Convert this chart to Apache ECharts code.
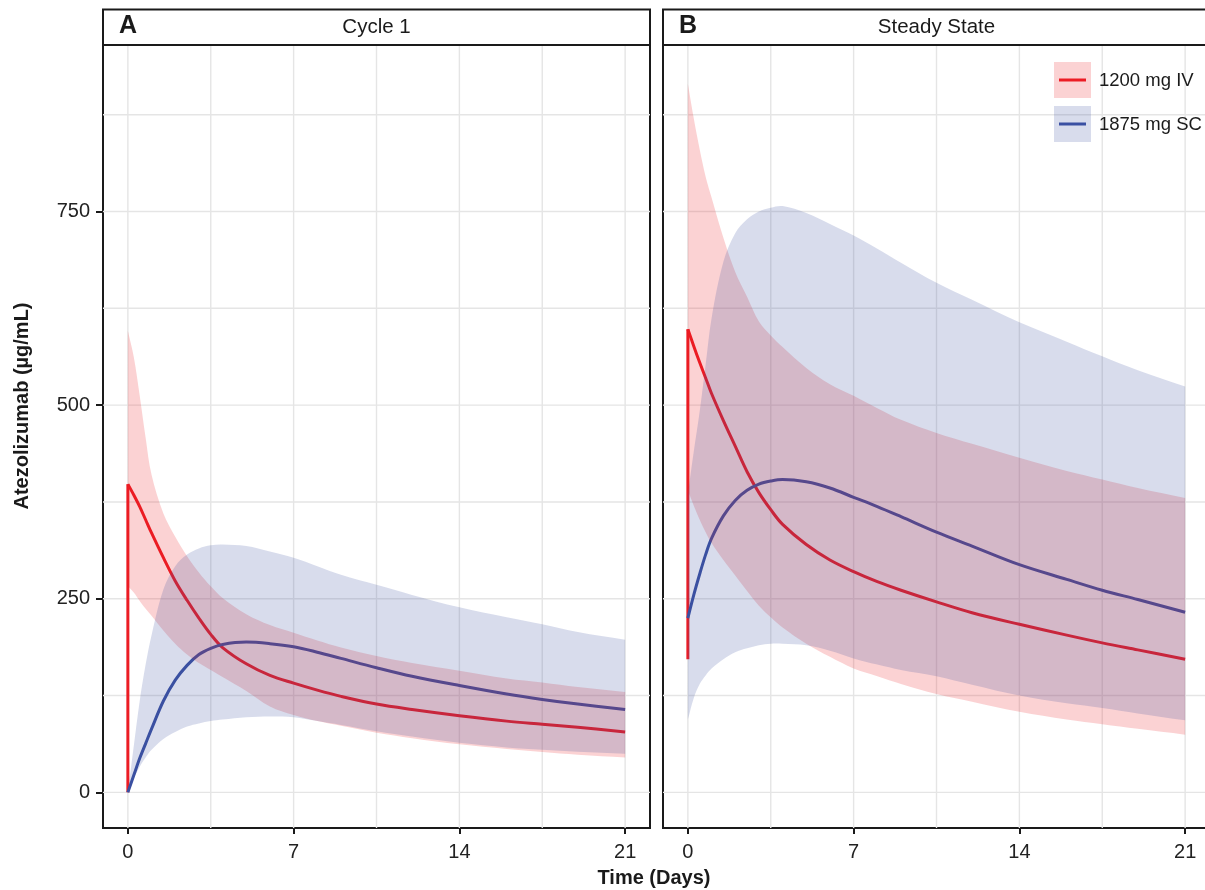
<!DOCTYPE html>
<html>
<head>
<meta charset="utf-8">
<title>Atezolizumab concentration</title>
<script src="https://cdn.jsdelivr.net/npm/echarts@6/dist/echarts.min.js"></script>
<style>
  html, body { margin: 0; padding: 0; background: #fff; overflow: hidden; }
  #chart { width: 1214px; height: 890px; }
</style>
</head>
<body>
<div id="chart"></div>
<script>
// time grid (days) shared by all curves
const days = [0, 0.25, 0.5, 0.75, 1, 1.5, 2, 2.5, 3, 3.5, 4, 5, 6, 7, 8, 9, 10.5, 12, 14, 16, 17.5, 19, 21]

// Cycle 1 - IV
const ivPreC1 = 0
const ivMedC1 = [398, 384, 369, 352, 335, 303, 273, 248, 225, 204, 187, 166, 151, 141, 132, 124, 114, 107, 99, 92, 88, 84, 78]
const ivLoC1 = [266, 258, 247, 237, 228, 209, 192, 178, 167, 158, 149, 131, 111, 100, 92, 86, 77, 70, 62, 56, 52, 48.5, 45]
const ivHiC1 = [596, 562, 512, 458, 410, 360, 330, 305, 284, 266, 251, 230, 216, 206, 196, 187, 176, 167, 157, 147, 142, 136, 129.5]
// Cycle 1 - SC
const scMedC1 = [0, 22, 44, 63, 82, 118, 145, 164, 178, 186, 191, 194, 192, 188, 181, 173, 161, 150, 138, 127, 120, 114, 107]
const scLoC1 = [0, 18, 33, 45, 55, 69, 78, 85, 89, 92, 94, 97, 98, 97, 92, 87, 79, 72, 64, 58, 55, 52.5, 50]
const scHiC1 = [0, 60, 118, 165, 203, 262, 292, 307, 315, 319, 320, 318, 311, 303, 292, 281, 268, 255, 239, 226, 217, 207, 197]

// Steady state - IV
const ivPreSS = 172
const ivMedSS = [598, 576, 555, 535, 515, 480, 447, 414, 387, 365, 346, 320, 300, 285, 272, 261, 246, 232, 217, 203, 193, 184, 172]
const ivLoSS = [390, 370, 352, 336, 322, 300, 280, 260, 241, 226, 213, 192, 175, 160, 150, 140, 127, 117, 104, 94, 88, 82, 74.5]
const ivHiSS = [915, 870, 830, 795, 768, 716, 672, 640, 608, 590, 575, 548, 527, 512, 496, 481, 464, 450, 432, 415, 404, 393, 380]
// Steady state - SC
const scMedSS = [225, 255, 282, 307, 328, 357, 377, 390, 398, 402, 404, 401, 393, 381, 369, 356, 336, 318, 294, 275, 261, 249, 232.5]
const scLoSS = [94, 122, 140, 151, 160, 172, 181, 186, 190, 192, 192, 190, 183, 173, 165, 158, 150, 139, 125, 115, 109, 102, 93]
const scHiSS = [385, 440, 492, 552, 612, 685, 722, 740, 750, 755, 757, 748, 734, 719, 702, 684, 658, 636, 607, 582, 563, 545, 524]

// ticks and grid lines
const dayTicks = [0, 7, 14, 21]
const concTicks = [0, 250, 500, 750]
const gridDays = [0, 3.5, 7, 10.5, 14, 17.5, 21]
const gridConc = [0, 125, 250, 375, 500, 625, 750, 875]

const panelTitles = ['Cycle 1', 'Steady State']
const panelTags = ['A', 'B']
const seriesNames = ['1200 mg IV', '1875 mg SC']

const RED = '#EC1C24'
const BLUE = '#3A50A2'
const RED_FILL = 'rgba(236,28,36,0.2)'
const BLUE_FILL = 'rgba(58,80,162,0.2)'
const FONT = '"Liberation Sans", Arial, sans-serif'
const INK = '#1a1a1a'
const SMOOTH = 0.35

const chart = echarts.init(document.getElementById('chart'), null, { renderer: 'canvas' })

// ribbon between lo and hi, one smoothed polygon; corner points doubled so the ends stay square
function bandSeries(idx, lo, hi, fill, z) {
	return {
		type: 'custom',
		xAxisIndex: idx,
		yAxisIndex: idx,
		z: z,
		silent: true,
		data: days.map((d, i) => [d, lo[i], hi[i]]),
		renderItem: function (params, api) {
			if (params.dataIndex !== 0) return null
			const n = days.length
			const pts = []
			pts.push(api.coord([days[0], hi[0]]))
			for (let i = 0; i < n; i++) pts.push(api.coord([days[i], hi[i]]))
			pts.push(api.coord([days[n - 1], hi[n - 1]]))
			pts.push(api.coord([days[n - 1], lo[n - 1]]))
			for (let j = n - 1; j >= 0; j--) pts.push(api.coord([days[j], lo[j]]))
			pts.push(api.coord([days[0], lo[0]]))
			return {
				type: 'polygon',
				shape: { points: pts, smooth: SMOOTH },
				style: { fill: fill },
			}
		},
	}
}

function gridSeries(idx) {
	return {
		type: 'custom',
		xAxisIndex: idx,
		yAxisIndex: idx,
		z: 0,
		silent: true,
		data: [[0, 0]],
		renderItem: function (params, api) {
			const cs = params.coordSys
			const children = []
			gridDays.forEach((d) => {
				const x = api.coord([d, 0])[0]
				children.push({
					type: 'line',
					shape: { x1: x, y1: cs.y, x2: x, y2: cs.y + cs.height },
					style: { stroke: '#E5E5E5', lineWidth: 1.4 },
				})
			})
			gridConc.forEach((c) => {
				const y = api.coord([0, c])[1]
				children.push({
					type: 'line',
					shape: { x1: cs.x, y1: y, x2: cs.x + cs.width, y2: y },
					style: { stroke: '#E5E5E5', lineWidth: 1.4 },
				})
			})
			return { type: 'group', children: children }
		},
	}
}

function lineSeries(idx, name, pts, color, smooth) {
	return {
		type: 'line',
		name: name,
		xAxisIndex: idx,
		yAxisIndex: idx,
		z: 2,
		silent: true,
		showSymbol: false,
		symbol: 'none',
		smooth: smooth,
		data: pts,
		lineStyle: { color: color, width: 3, cap: 'butt', join: 'miter' },
		animation: false,
	}
}

const panels = [
	{ ivPre: ivPreC1, ivMed: ivMedC1, ivLo: ivLoC1, ivHi: ivHiC1, scMed: scMedC1, scLo: scLoC1, scHi: scHiC1 },
	{ ivPre: ivPreSS, ivMed: ivMedSS, ivLo: ivLoSS, ivHi: ivHiSS, scMed: scMedSS, scLo: scLoSS, scHi: scHiSS },
]

const gridLefts = [103, 663]
const PANEL_W = 547
const PANEL_TOP = 45
const PANEL_H = 783

const series = []
panels.forEach((p, i) => {
	series.push(gridSeries(i))
	// dose jump at day 0, then the decay curve
	series.push(lineSeries(i, seriesNames[0], [[0, p.ivPre], [0, p.ivMed[0]]], RED, false))
	series.push(lineSeries(i, seriesNames[0], days.map((d, k) => [d, p.ivMed[k]]), RED, SMOOTH))
	series.push(lineSeries(i, seriesNames[1], days.map((d, k) => [d, p.scMed[k]]), BLUE, SMOOTH))
	series.push(bandSeries(i, p.ivLo, p.ivHi, RED_FILL, 3))
	series.push(bandSeries(i, p.scLo, p.scHi, BLUE_FILL, 4))
})

const graphics = []
panelTitles.forEach((title, i) => {
	const left = gridLefts[i]
	graphics.push({
		type: 'rect',
		shape: { x: left, y: 9.5, width: PANEL_W, height: PANEL_TOP - 9.5 },
		style: { fill: '#fff', stroke: INK, lineWidth: 2 },
		z: 10,
	})
	graphics.push({
		type: 'text',
		x: left + PANEL_W / 2,
		y: 27.5,
		style: { text: title, font: '20.5px ' + FONT, fill: INK, textAlign: 'center', textVerticalAlign: 'middle' },
		z: 11,
	})
	graphics.push({
		type: 'text',
		x: left + 16,
		y: 26.5,
		style: { text: panelTags[i], font: 'bold 25px ' + FONT, fill: INK, textAlign: 'left', textVerticalAlign: 'middle' },
		z: 11,
	})
})

// legend drawn inside panel B
const legendFills = [RED_FILL, BLUE_FILL]
const legendColors = [RED, BLUE]
seriesNames.forEach((name, i) => {
	const y0 = 62 + i * 44
	graphics.push({
		type: 'rect',
		shape: { x: 1054, y: y0, width: 37, height: 36 },
		style: { fill: legendFills[i] },
		z: 12,
	})
	graphics.push({
		type: 'line',
		shape: { x1: 1059, y1: y0 + 18, x2: 1086, y2: y0 + 18 },
		style: { stroke: legendColors[i], lineWidth: 3 },
		z: 13,
	})
	graphics.push({
		type: 'text',
		x: 1099,
		y: y0 + 19,
		style: { text: name, font: '18.5px ' + FONT, fill: INK, textAlign: 'left', textVerticalAlign: 'middle' },
		z: 13,
	})
})

graphics.push({
	type: 'text',
	x: 22,
	y: 406,
	rotation: Math.PI / 2,
	style: { text: 'Atezolizumab (µg/mL)', font: 'bold 20px ' + FONT, fill: INK, textAlign: 'center', textVerticalAlign: 'middle' },
})
graphics.push({
	type: 'text',
	x: 654,
	y: 878,
	style: { text: 'Time (Days)', font: 'bold 20px ' + FONT, fill: INK, textAlign: 'center', textVerticalAlign: 'middle' },
})

const option = {
	backgroundColor: '#fff',
	animation: false,
	textStyle: { fontFamily: FONT },
	grid: gridLefts.map((left) => ({
		left: left,
		top: PANEL_TOP,
		width: PANEL_W,
		height: PANEL_H,
		show: true,
		borderColor: INK,
		borderWidth: 2,
		backgroundColor: 'transparent',
		containLabel: false,
	})),
	xAxis: [0, 1].map((i) => ({
		gridIndex: i,
		type: 'value',
		position: 'bottom',
		min: -1.05,
		max: 22.05,
		splitLine: { show: false },
		axisLine: { show: false, onZero: false },
		axisTick: { show: true, inside: false, customValues: dayTicks, length: 6, lineStyle: { color: INK, width: 2 } },
		axisLabel: { customValues: dayTicks, fontSize: 20, color: '#222', margin: 14, fontFamily: FONT },
	})),
	yAxis: [0, 1].map((i) => ({
		gridIndex: i,
		type: 'value',
		min: -46,
		max: 965,
		splitLine: { show: false },
		axisLine: { show: false, onZero: false },
		axisTick: { show: i === 0, inside: false, customValues: concTicks, length: 7, lineStyle: { color: INK, width: 2 } },
		axisLabel: { show: i === 0, customValues: concTicks, fontSize: 20, color: '#222', margin: 13, fontFamily: FONT },
	})),
	graphic: graphics,
	series: series,
}

chart.setOption(option)
</script>
</body>
</html>
